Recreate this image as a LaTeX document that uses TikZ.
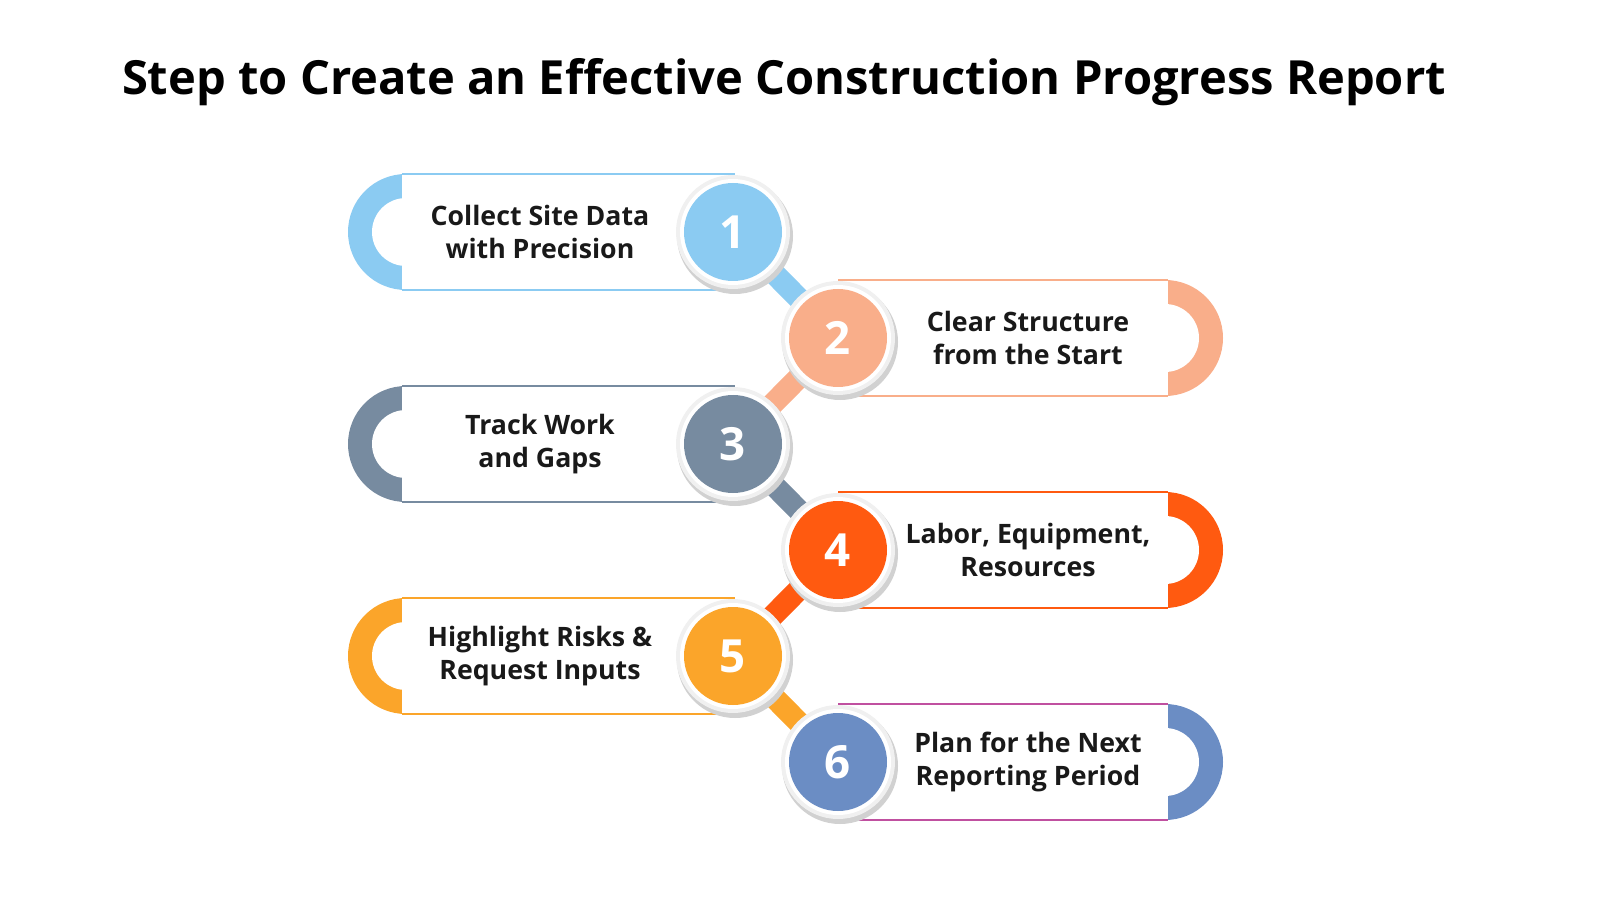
\documentclass[tikz,border=0pt]{standalone}
\usepackage{fontspec}
\setmainfont{Open Sans}
\definecolor{k1}{HTML}{8BCBF2}
\definecolor{k2}{HTML}{F9AE8A}
\definecolor{k3}{HTML}{778BA0}
\definecolor{k4}{HTML}{FF5A10}
\definecolor{k5}{HTML}{FBA52A}
\definecolor{k6}{HTML}{6B8DC4}
\definecolor{o6}{HTML}{C050A0}
\tikzset{
 lbl/.style={align=center,font=\fontsize{7.6}{9.4}\selectfont\bfseries,text=black!90},
 num/.style={circle,minimum size=98*0.1mm,inner sep=0,font=\fontsize{13}{13}\selectfont\bfseries,text=white},
}
\begin{document}
\begin{tikzpicture}[x=0.1mm,y=-0.1mm]
\useasboundingbox (0,0) rectangle (1600,900);
\node[font=\fontsize{13.4}{15}\selectfont\bfseries] (title) at (784,82) {Step to Create an Effective Construction Progress Report};
\foreach \i/\y/\c/\o/\s/\t in {1/232/k1/k1/L/{Collect Site Data\\with Precision},2/338/k2/k2/R/{Clear Structure\\from the Start},3/444/k3/k3/L/{Track Work\\and Gaps},4/550/k4/k4/R/{Labor, Equipment,\\Resources},5/656/k5/k5/L/{Highlight Risks \&\\Request Inputs},6/762/k6/o6/R/{Plan for the Next\\Reporting Period}}{
 \if\s L
  \coordinate (p\i) at (733,\y);
  \fill[\c] (406,\y+58) arc (90:270:58) -- cycle;
  \fill[white] (406,\y) circle (34);
  \fill[white] (402,\y-58) rectangle (735,\y+58);
  \draw[\o,line width=0.35pt] (402,\y-58) -- (735,\y-58) (402,\y+58) -- (735,\y+58);
  \node[lbl] (t\i) at (540,\y) {\t};
 \else
  \coordinate (p\i) at (838,\y);
  \fill[\c] (1165,\y+58) arc (90:-90:58) -- cycle;
  \fill[white] (1165,\y) circle (34);
  \fill[white] (838,\y-58) rectangle (1168,\y+58);
  \draw[\o,line width=0.35pt] (838,\y-58) -- (1168,\y-58) (838,\y+58) -- (1168,\y+58);
  \node[lbl] (t\i) at (1028,\y) {\t};
 \fi
}
\foreach \a/\b/\c in {1/2/k1,2/3/k2,3/4/k3,4/5/k4,5/6/k5}{
 \draw[\c,line width=22*0.1mm] (p\a) -- (p\b);
}
\foreach \i/\c in {1/k1,2/k2,3/k3,4/k4,5/k5,6/k6}{
 \fill[black!18] ([xshift=2*0.1mm,yshift=-4*0.1mm]p\i) circle (58);
 \fill[black!6] (p\i) circle (57);
 \fill[white] (p\i) circle (53);
 \node[num,fill=\c] (c\i) at (p\i) {\i};
}
\end{tikzpicture}
\end{document}
